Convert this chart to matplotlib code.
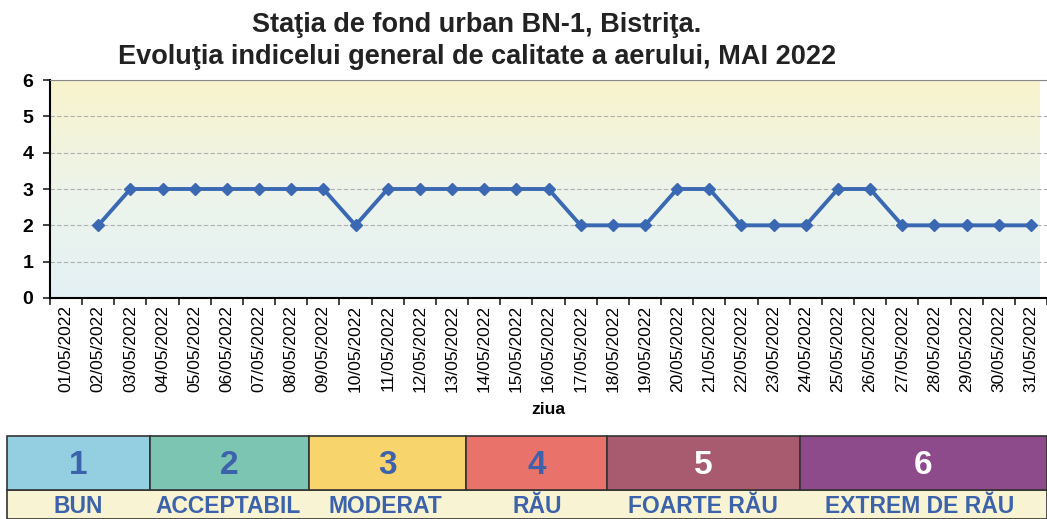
import matplotlib
matplotlib.use("Agg")
import matplotlib.pyplot as plt
import numpy as np
from matplotlib.patches import Rectangle
from matplotlib.colors import LinearSegmentedColormap

days = [f"{d:02d}/05/2022" for d in range(1, 32)]
values = [np.nan, 2, 3, 3, 3, 3, 3, 3, 3, 2, 3, 3, 3, 3, 3, 3, 2, 2, 2, 3, 3, 2, 2, 2, 3, 3, 2, 2, 2, 2, 2]
yticks = [0, 1, 2, 3, 4, 5, 6]
title = "Staţia de fond urban BN-1, Bistriţa.\nEvoluţia indicelui general de calitate a aerului, MAI 2022"
xlabel = "ziua"

legend_nums = ["1", "2", "3", "4", "5", "6"]
legend_labels = ["BUN", "ACCEPTABIL", "MODERAT", "RĂU", "FOARTE RĂU", "EXTREM DE RĂU"]
legend_colors = ["#93cfe0", "#7cc5b2", "#f8d46c", "#e9736b", "#a85b6f", "#8d4b8c"]
legend_numcolors = ["#3b62aa", "#3b62aa", "#3b62aa", "#3b62aa", "white", "white"]
legend_edges = [7, 150, 309, 466, 607, 800, 1047]

W, H = 1047, 519
fig = plt.figure(figsize=(W / 100, H / 100), dpi=100)
fig.patch.set_facecolor("white")

ax_l, ax_r, ax_t, ax_b = 50, 1047, 80, 298
ax = fig.add_axes([ax_l / W, 1 - ax_b / H, (ax_r - ax_l) / W, (ax_b - ax_t) / H])
x = np.arange(len(days))
step = 32.4
ax.set_xlim(-0.5, -0.5 + (ax_r - ax_l) / step)
ax.set_ylim(0, 6)

grad = np.linspace(0, 1, 256).reshape(-1, 1)
cmap = LinearSegmentedColormap.from_list("bg", ["#e4f1f5", "#edf4ea", "#f8f3cc"])
ax.imshow(grad, aspect="auto", cmap=cmap, origin="lower",
          extent=[ax.get_xlim()[0], ax.get_xlim()[1], 0, 6], zorder=0)

for y in yticks[1:]:
    ax.axhline(y, color="#b0b0b0", lw=0.8, ls=(0, (4, 2)), zorder=1)

ax.plot(x, values, color="#3a68b2", lw=2.8, marker="D", ms=6.5, zorder=3)

ax.set_yticks(yticks)
ax.set_yticklabels([str(v) for v in yticks], fontsize=14, fontweight="bold", family="Liberation Sans")
ax.set_xticks(x)
ax.set_xticklabels(days, rotation=90, fontsize=12.5, family="Liberation Sans")
ax.set_xticks(np.arange(-0.5, len(days), 1), minor=True)
ax.tick_params(axis="x", which="major", length=0, pad=5)
ax.tick_params(axis="x", which="minor", length=5, width=1.2, color="#222")
ax.tick_params(axis="y", length=5, width=1.2, color="#222", pad=7)
ax.spines["right"].set_visible(False)
ax.spines["top"].set_color("#888")
ax.spines["left"].set_linewidth(1.5)
ax.spines["bottom"].set_linewidth(1.5)

fig.text(548 / W, 1 - 410 / H, xlabel, ha="center", va="center", fontsize=12.5,
         fontweight="bold", family="Liberation Sans")
fig.text(477 / W, 1 - 41 / H, title, ha="center", va="center", fontsize=19.5,
         fontweight="bold", family="Liberation Sans", linespacing=1.35, color="#222")

lax = fig.add_axes([0, 0, 1, 1])
lax.set_xlim(0, W)
lax.set_ylim(H, 0)
lax.axis("off")
top, mid, bot = 436, 490, 519
lax.add_patch(Rectangle((legend_edges[0], mid), legend_edges[-1] - legend_edges[0], bot - mid,
                        facecolor="#f8f4d3", edgecolor="#333", lw=1.2))
for i in range(len(legend_nums)):
    x0, x1 = legend_edges[i], legend_edges[i + 1]
    lax.add_patch(Rectangle((x0, top), x1 - x0, mid - top, facecolor=legend_colors[i],
                            edgecolor="#333", lw=1.2))
    lax.text((x0 + x1) / 2, (top + mid) / 2 + 2, legend_nums[i], ha="center", va="center",
             fontsize=24, fontweight="bold", color=legend_numcolors[i], family="Liberation Sans")
centers = [78, 228, 385, 537, 703, 920]
for c, lab in zip(centers, legend_labels):
    lax.text(c, (mid + bot) / 2 + 2, lab, ha="center", va="center", fontsize=16.5,
             fontweight="bold", color="#3b62aa", family="Liberation Sans")

fig.savefig("out.png", dpi=100)
